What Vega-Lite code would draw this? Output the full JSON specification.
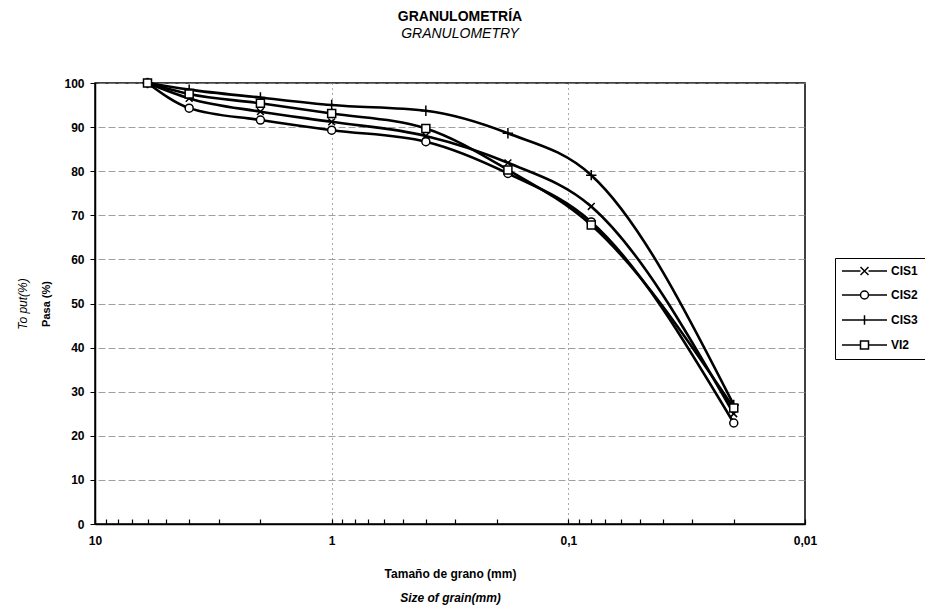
{
  "$schema": "https://vega.github.io/schema/vega-lite/v6.json",
  "width": 710,
  "height": 441,
  "autosize": {"type": "none"},
  "padding": {"left": 95, "top": 83, "right": 120, "bottom": 81},
  "background": "white",
  "config": {"font": "Liberation Sans", "view": {"stroke": "black", "strokeWidth": 1.5}},
  "title": {"text": "GRANULOMETRÍA", "subtitle": "GRANULOMETRY", "fontSize": 14, "fontWeight": "bold", "color": "black", "subtitleFontSize": 14, "subtitleFontStyle": "italic", "subtitleColor": "black", "subtitleFont": "Liberation Sans", "anchor": "middle", "offset": 34, "subtitlePadding": 3, "dx": 10},
  "data": {"values": [
    {"series": "CIS1", "size": 6, "pasa": 100},
    {"series": "CIS1", "size": 4, "pasa": 96.5},
    {"series": "CIS1", "size": 2, "pasa": 93.5},
    {"series": "CIS1", "size": 1, "pasa": 91.2},
    {"series": "CIS1", "size": 0.4, "pasa": 88},
    {"series": "CIS1", "size": 0.18, "pasa": 81.9},
    {"series": "CIS1", "size": 0.08, "pasa": 72},
    {"series": "CIS1", "size": 0.02, "pasa": 25},
    {"series": "CIS2", "size": 6, "pasa": 100},
    {"series": "CIS2", "size": 4, "pasa": 94.3},
    {"series": "CIS2", "size": 2, "pasa": 91.6},
    {"series": "CIS2", "size": 1, "pasa": 89.3},
    {"series": "CIS2", "size": 0.4, "pasa": 86.7},
    {"series": "CIS2", "size": 0.18, "pasa": 79.5},
    {"series": "CIS2", "size": 0.08, "pasa": 68.5},
    {"series": "CIS2", "size": 0.02, "pasa": 22.9},
    {"series": "CIS3", "size": 6, "pasa": 100},
    {"series": "CIS3", "size": 4, "pasa": 98.5},
    {"series": "CIS3", "size": 2, "pasa": 96.7},
    {"series": "CIS3", "size": 1, "pasa": 95},
    {"series": "CIS3", "size": 0.4, "pasa": 93.7},
    {"series": "CIS3", "size": 0.18, "pasa": 88.6},
    {"series": "CIS3", "size": 0.08, "pasa": 79.1},
    {"series": "CIS3", "size": 0.02, "pasa": 27},
    {"series": "VI2", "size": 6, "pasa": 100},
    {"series": "VI2", "size": 4, "pasa": 97.5},
    {"series": "VI2", "size": 2, "pasa": 95.4},
    {"series": "VI2", "size": 1, "pasa": 93.1},
    {"series": "VI2", "size": 0.4, "pasa": 89.7},
    {"series": "VI2", "size": 0.18, "pasa": 80.3},
    {"series": "VI2", "size": 0.08, "pasa": 67.8},
    {"series": "VI2", "size": 0.02, "pasa": 26.3}
  ]},
  "layer": [
    {
      "mark": {"type": "line", "color": "black", "strokeWidth": 2.6, "interpolate": "monotone"},
      "encoding": {
        "x": {"field": "size", "type": "quantitative",
          "scale": {"type": "log", "domain": [0.01, 10], "reverse": true, "nice": false},
          "axis": {
            "title": "Tamaño de grano (mm)", "titleFontSize": 12, "titleFontWeight": "bold", "titleColor": "black", "titlePadding": 22,
            "values": [10, 9, 8, 7, 6, 5, 4, 3, 2, 1, 0.9, 0.8, 0.7, 0.6, 0.5, 0.4, 0.3, 0.2, 0.1, 0.09, 0.08, 0.07, 0.06, 0.05, 0.04, 0.03, 0.02, 0.01],
            "labelExpr": "datum.value == 10 ? '10' : datum.value == 1 ? '1' : datum.value == 0.1 ? '0,1' : datum.value == 0.01 ? '0,01' : ''",
            "labelFontSize": 12, "labelFontWeight": "bold", "labelColor": "black", "labelOverlap": false, "labelFlush": false, "labelPadding": 16,
            "tickColor": "black", "tickSize": -5, "tickWidth": 1.2, "domainColor": "black", "domainWidth": 1.5, "grid": false
          }
        },
        "y": {"field": "pasa", "type": "quantitative",
          "scale": {"domain": [0, 100], "nice": false},
          "axis": {
            "title": "Pasa (%)", "titleFontSize": 11, "titleFontWeight": "bold", "titleColor": "black", "titlePadding": 12,
            "values": [0, 10, 20, 30, 40, 50, 60, 70, 80, 90, 100],
            "labelFontSize": 12, "labelFontWeight": "bold", "labelColor": "black", "labelPadding": 6,
            "tickColor": "black", "tickSize": 5, "domainColor": "black", "domainWidth": 1.5,
            "grid": true, "gridColor": "#888888", "gridDash": [7, 3], "gridWidth": 0.8
          }
        },
        "detail": {"field": "series"}
      }
    },
    {
      "mark": {"type": "point", "filled": true, "fill": "white", "stroke": "black", "strokeWidth": 1.5, "size": 64, "opacity": 1},
      "encoding": {
        "x": {"field": "size", "type": "quantitative",
          "axis": {"orient": "bottom", "title": "Size of grain(mm)", "titleFontSize": 12, "titleFontWeight": "bold", "titleFontStyle": "italic", "titleColor": "black", "titlePadding": 68,
            "labels": false, "ticks": false, "domain": false, "values": [1, 0.1], "grid": true, "gridColor": "#555555", "gridDash": [1, 4], "gridWidth": 1}
        },
        "y": {"field": "pasa", "type": "quantitative",
          "axis": {"orient": "left", "title": "To put(%)", "titleFontSize": 12, "titleFontWeight": "normal", "titleFontStyle": "italic", "titleColor": "black", "titlePadding": 66,
            "labels": false, "ticks": false, "domain": false, "grid": false}
        },
        "shape": {"field": "series", "type": "nominal",
          "scale": {"domain": ["CIS1", "CIS2", "CIS3", "VI2"], "range": ["M-0.85,-0.85L0.85,0.85M-0.85,0.85L0.85,-0.85", "circle", "M-1.3,0H1.3M0,-1.3V1.3", "square"]},
          "legend": null
        }
      }
    },
    {
      "transform": [{"filter": "datum.series == 'none'"}],
      "mark": {"type": "point", "filled": false, "color": "black", "strokeWidth": 1.5, "size": 64, "opacity": 1},
      "encoding": {
        "x": {"field": "size", "type": "quantitative", "axis": null},
        "y": {"field": "pasa", "type": "quantitative", "axis": null},
        "shape": {"field": "series", "type": "nominal",
          "scale": {"domain": ["CIS1", "CIS2", "CIS3", "VI2"], "range": [
            "M-1.5,0H3.125M5.125,0H9.75M3.125,-1L5.125,1M3.125,1L5.125,-1",
            "M-1.5,0H3.125M5.125,0H9.75M3.125,0A1,1,0,1,1,5.125,0A1,1,0,1,1,3.125,0Z",
            "M-1.5,0H9.75M4.125,-1.2V1.2",
            "M-1.5,0H3.125M5.125,0H9.75M3.125,-1H5.125V1H3.125Z"
          ]},
          "legend": {"title": null, "orient": "none", "legendX": 740, "legendY": 175, "strokeColor": "black", "fillColor": "white", "padding": 7,
            "symbolSize": 64, "symbolStrokeWidth": 1.5, "symbolOpacity": 1, "symbolStrokeColor": "black",
            "labelFontSize": 12, "labelFontWeight": "bold", "labelColor": "black", "labelOffset": 37, "rowPadding": 10}
        }
      }
    }
  ],
  "resolve": {"axis": {"x": "independent", "y": "independent"}, "scale": {"shape": "independent"}}
}
